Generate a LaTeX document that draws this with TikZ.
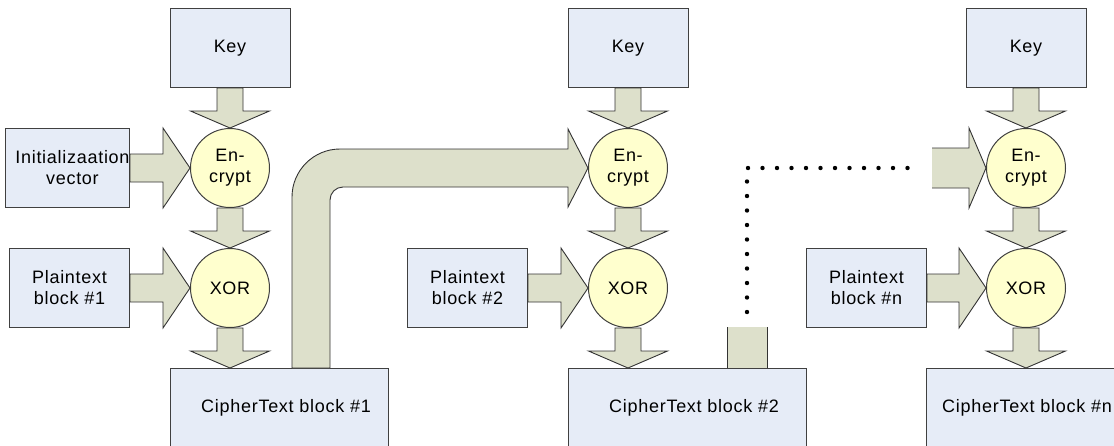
\documentclass[tikz,border=0pt]{standalone}
\usepackage{fontspec}
\setmainfont{Liberation Sans}[LetterSpace=4]
\usetikzlibrary{positioning, calc}

\definecolor{boxblue}{RGB}{230,236,247}
\definecolor{opyellow}{RGB}{255,255,206}
\definecolor{arrowsage}{RGB}{221,224,203}
\definecolor{edgegray}{RGB}{64,64,64}

% block arrow pointing down, tip at #2
\newcommand{\blkdown}[2]{%
  \filldraw[blk] let \p1=(#1), \p2=(#2) in
    (\x1-13pt,\y1) -- (\x1+13pt,\y1) -- (\x1+13pt,\y2+17pt) -- (\x1+39.5pt,\y2+17pt)
    -- (\x1,\y2) -- (\x1-39.5pt,\y2+17pt) -- (\x1-13pt,\y2+17pt) -- cycle;}
% block arrow pointing right, tip at #2
\newcommand{\blkright}[2]{%
  \filldraw[blk] let \p1=(#1), \p2=(#2) in
    (\x1,\y1+14pt) -- (\x2-27pt,\y1+14pt) -- (\x2-27pt,\y1+40pt) -- (\x2,\y2)
    -- (\x2-27pt,\y1-40pt) -- (\x2-27pt,\y1-14pt) -- (\x1,\y1-14pt) -- cycle;}

\begin{document}
\begin{tikzpicture}[
    x=1pt, y=-1pt,
    font=\fontsize{18}{21}\selectfont,
    box/.style={draw=edgegray, fill=boxblue, line width=1pt, minimum width=120pt, minimum height=79pt, align=center, inner sep=0pt},
    cbox/.style={box, minimum width=218pt},
    op/.style={circle, draw=edgegray, fill=opyellow, line width=1pt, minimum size=79pt, align=center, inner sep=0pt},
    blk/.style={fill=arrowsage, draw=edgegray!80!black, line width=0.9pt, line join=miter},
    edge/.style={draw=edgegray!80!black, line width=0.9pt},
    dots/.style={line width=4.4pt, line cap=round, dash pattern=on 0pt off 14.5pt}
]
\useasboundingbox (0,0) rectangle (1114,445);
\clip (0,0) rectangle (1114,445);

% First block
\node[box] (key1) at (230,48) {Key};
\node[op, below=40pt of key1] (enc1) {En-\\crypt};
\node[op, below=40pt of enc1] (xor1) {XOR};
\node[box, minimum width=121pt, left=60pt of enc1] (iv) {\hspace*{10pt}Initializaation\\\hspace*{10pt}vector};
\node[box, left=60pt of xor1] (pt1) {Plaintext\\block \#1};
\node[cbox, below=40pt of xor1, xshift=49pt] (ct1) {};
\node (ct1txt) at ([xshift=7pt]ct1.center) {CipherText block \#1};

% Second block
\node[box] (key2) at (628,48) {Key};
\node[op, below=40pt of key2] (enc2) {En-\\crypt};
\node[op, below=40pt of enc2] (xor2) {XOR};
\node[box, left=60pt of xor2] (pt2) {Plaintext\\block \#2};
\node[cbox, minimum width=238pt, below=40pt of xor2, xshift=59pt] (ct2) {};
\node (ct2txt) at ([xshift=7pt]ct2.center) {CipherText block \#2};

% Last block
\node[box] (key3) at (1026,48) {Key};
\node[op, below=40pt of key3] (enc3) {En-\\crypt};
\node[op, below=40pt of enc3] (xor3) {XOR};
\node[box, left=59pt of xor3] (pt3) {Plaintext\\block \#n};
\node[cbox, minimum width=238pt, below=40pt of xor3, xshift=19pt] (ct3) {};
\node (ct3txt) at ([xshift=-18pt]ct3.center) {CipherText block \#n};

% Block arrows
\blkdown{key1.south}{enc1.north}
\blkdown{enc1.south}{xor1.north}
\blkdown{xor1.south}{xor1 |- ct1.north}
\blkright{iv.east}{enc1.west}
\blkright{pt1.east}{xor1.west}

\blkdown{key2.south}{enc2.north}
\blkdown{enc2.south}{xor2.north}
\blkdown{xor2.south}{xor2 |- ct2.north}
\blkright{pt2.east}{xor2.west}

\blkdown{key3.south}{enc3.north}
\blkdown{enc3.south}{xor3.north}
\blkdown{xor3.south}{xor3 |- ct3.north}
\blkright{pt3.east}{xor3.west}

% Chaining: ciphertext #1 feeds the next encrypt
\coordinate (c1out) at ([xshift=32pt]ct1.north);
\filldraw[blk] let \p1=(c1out), \p2=(enc2.west) in
    (\x1-19pt,\y1) -- (\x1-19pt,\y2-29pt)
    .. controls (\x1-19pt,\y2-2.5pt) and (\x1+2.5pt,\y2+19pt) .. (\x1+29pt,\y2+19pt)
    -- (\x2-20pt,\y2+19pt) -- (\x2-20pt,\y2+39pt) -- (\x2,\y2)
    -- (\x2-20pt,\y2-39pt) -- (\x2-20pt,\y2-19pt) -- (\x1+32pt,\y2-19pt)
    .. controls (\x1+24.8pt,\y2-19pt) and (\x1+19pt,\y2-24.8pt) .. (\x1+19pt,\y2-32pt)
    -- (\x1+19pt,\y1) -- cycle;

% Chaining continued, elided
\coordinate (c2out) at ([xshift=60pt]ct2.north);
\coordinate (dotend) at ([xshift=-54pt]enc3.west);
\fill[arrowsage] ([xshift=-20pt]c2out) rectangle ([xshift=20pt, yshift=41pt]c2out);
\draw[edge] ([xshift=-20pt]c2out) -- ++(0,-41) ([xshift=20pt]c2out) -- ++(0,-41);
\draw[dots] ([yshift=56pt]c2out) |- ([xshift=-11pt]dotend);
\filldraw[blk] let \p1=(dotend), \p2=(enc3.west) in
    (\x1,\y1+20pt) -- (\x2-17pt,\y1+20pt) -- (\x2-17pt,\y1+40pt) -- (\x2,\y2)
    -- (\x2-17pt,\y1-40pt) -- (\x2-17pt,\y1-20pt) -- (\x1,\y1-20pt);

\end{tikzpicture}
\end{document}
